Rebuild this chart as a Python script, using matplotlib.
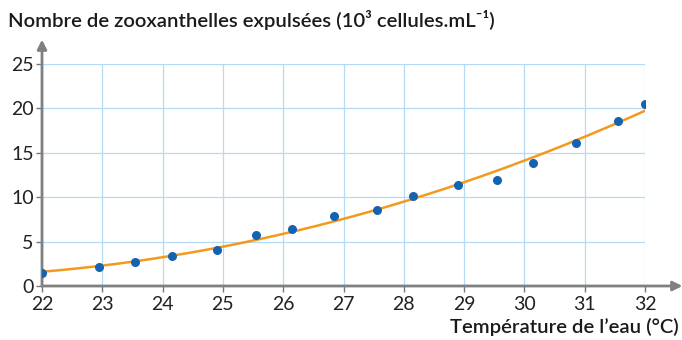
import numpy as np
import matplotlib
matplotlib.use("Agg")
import matplotlib.pyplot as plt

# Data
temperature = [22.0, 22.95, 23.55, 24.15, 24.9, 25.55, 26.15, 26.85,
               27.55, 28.15, 28.9, 29.55, 30.15, 30.85, 31.55, 32.0]
expelled = [1.5, 2.1, 2.7, 3.4, 4.05, 5.7, 6.4, 7.9,
            8.6, 10.1, 11.35, 11.95, 13.85, 16.1, 18.6, 20.5]
x_ticks = list(range(22, 33))
y_ticks = [0, 5, 10, 15, 20, 25]
title = "Nombre de zooxanthelles expulsées (10³ cellules.mL⁻¹)"
xlabel = "Température de l’eau (°C)"

plt.rcParams['font.family'] = ['Lato', 'DejaVu Sans']

fig = plt.figure(figsize=(6.82, 3.40), dpi=100)
ax = fig.add_axes([42/682, 54/340, 603/682, 222/340])

# trend curve (polynomial fit of the data)
coef = np.polyfit(temperature, expelled, 2)
xs = np.linspace(22, 32, 200)
ax.plot(xs, np.polyval(coef, xs), color='#f39a1e', lw=1.8, zorder=3)
ax.scatter(temperature, expelled, s=30, color='#1463b0', zorder=4)

ax.set_xlim(22, 32)
ax.set_ylim(0, 25)
ax.set_xticks(x_ticks)
ax.set_yticks(y_ticks)
ax.grid(True, color='#b5daf5', lw=0.9)
ax.set_axisbelow(True)
for s in ax.spines.values():
    s.set_visible(False)
ax.tick_params(axis='both', colors='#777777', length=4, width=1,
               labelsize=14, labelcolor='#222222')
ax.tick_params(axis='x', pad=3)
ax.tick_params(axis='y', pad=2)

# axis arrows
ax.annotate('', xy=(1.062, 0), xytext=(0, 0), xycoords='axes fraction',
            arrowprops=dict(arrowstyle='-|>', color='#808080', lw=2,
                            mutation_scale=14, shrinkA=0, shrinkB=0),
            annotation_clip=False)
ax.annotate('', xy=(0, 1.11), xytext=(0, 0), xycoords='axes fraction',
            arrowprops=dict(arrowstyle='-|>', color='#808080', lw=2,
                            mutation_scale=14, shrinkA=0, shrinkB=0),
            annotation_clip=False)

fig.text(8/682, 1 - 20/340, title, ha='left', va='center',
         fontsize=14.6, fontweight='semibold', color='#1a1a1a')
fig.text(679/682, 1 - 327/340, xlabel, ha='right', va='center',
         fontsize=14.6, fontweight='semibold', color='#1a1a1a')

fig.savefig('out.png', dpi=100)
